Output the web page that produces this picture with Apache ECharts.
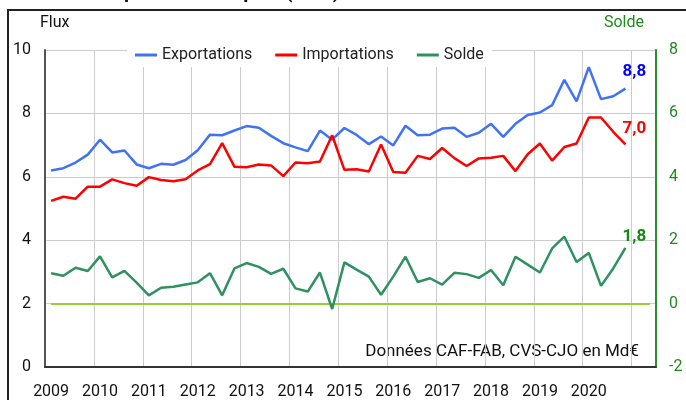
<!DOCTYPE html>
<html>
<head>
<meta charset="utf-8">
<script src="https://cdn.jsdelivr.net/npm/echarts@6/dist/echarts.min.js"></script>
<style>
  html, body { margin: 0; padding: 0; background: #fff; }
  #chart { width: 686px; height: 400px; }
</style>
</head>
<body>
<div id="chart"></div>
<script>
// années affichées sur l'axe (un label par T1)
var years = ['2009', '2010', '2011', '2012', '2013', '2014', '2015', '2016', '2017', '2018', '2019', '2020', '2021']
// trimestres, 2009T1 -> 2021T2 (les deux derniers sont vides)
var quarters = []
years.forEach(function (y) {
  ['T1', 'T2', 'T3', 'T4'].forEach(function (q) { quarters.push(y + q) })
})
var categories = quarters.slice(0, 50)

// flux trimestriels, Md€
var exportations = [6.20, 6.27, 6.45, 6.70, 7.17, 6.77, 6.83, 6.39,
  6.27, 6.41, 6.38, 6.53, 6.84, 7.33, 7.31, 7.46,
  7.60, 7.55, 7.29, 7.06, 6.93, 6.81, 7.46, 7.17,
  7.54, 7.32, 7.03, 7.27, 6.99, 7.61, 7.31, 7.33,
  7.52, 7.55, 7.26, 7.39, 7.67, 7.26, 7.67, 7.95,
  8.03, 8.26, 9.06, 8.38, 9.46, 8.45, 8.54, 8.78]
var importations = [5.24, 5.37, 5.31, 5.69, 5.69, 5.92, 5.80, 5.72,
  5.99, 5.90, 5.86, 5.92, 6.20, 6.40, 7.06, 6.32,
  6.30, 6.39, 6.36, 6.02, 6.45, 6.43, 6.48, 7.31,
  6.22, 6.24, 6.17, 7.02, 6.15, 6.13, 6.66, 6.56,
  6.91, 6.59, 6.34, 6.58, 6.60, 6.66, 6.18, 6.71,
  7.05, 6.51, 6.94, 7.05, 7.87, 7.87, 7.42, 7.02]
var solde = [0.96, 0.88, 1.13, 1.03, 1.49, 0.83, 1.03, 0.66,
  0.26, 0.50, 0.53, 0.60, 0.67, 0.96, 0.26, 1.11,
  1.28, 1.16, 0.94, 1.10, 0.48, 0.38, 0.98, -0.17,
  1.30, 1.07, 0.85, 0.28, 0.85, 1.48, 0.68, 0.80,
  0.60, 0.97, 0.93, 0.81, 1.06, 0.58, 1.48, 1.23,
  0.98, 1.74, 2.11, 1.31, 1.60, 0.56, 1.11, 1.76]

var FONT = 'Roboto'

// étiquette de la dernière valeur (ex. 8,8), les autres points restent sans label
function lastLabel(arr, color, offset) {
  return arr.map(function (v, i) {
    if (i !== arr.length - 1) return v
    return {
      value: v,
      label: {
        show: true,
        position: 'top',
        offset: offset,
        color: color,
        fontFamily: FONT,
        fontWeight: 'bold',
        fontSize: 17,
        formatter: function (p) { return p.value.toFixed(1).replace('.', ',') }
      }
    }
  })
}

var chart = echarts.init(document.getElementById('chart'))

chart.setOption({
  animation: false,
  textStyle: { fontFamily: FONT },
  grid: { left: 45, right: 30, top: 50, bottom: 33 },
  legend: {
    left: 127,
    top: 45,
    padding: [2, 8, 4, 8],
    backgroundColor: '#fff',
    icon: 'rect',
    itemWidth: 22,
    itemHeight: 3,
    itemGap: 23,
    textStyle: { fontSize: 16, color: '#222', fontFamily: FONT },
    data: ['Exportations', 'Importations', 'Solde']
  },
  xAxis: {
    type: 'category',
    data: categories,
    boundaryGap: true,
    axisLine: { lineStyle: { color: '#333', width: 2 } },
    axisTick: { show: false },
    axisLabel: {
      interval: function (i) { return i % 4 === 0 && i < 48 },
      formatter: function (v) { return v.slice(0, 4) },
      fontSize: 16,
      color: '#111',
      margin: 17
    },
    splitLine: {
      show: true,
      interval: function (i) { return i % 4 === 0 },
      lineStyle: { color: '#ccc', width: 1 }
    }
  },
  yAxis: [
    {
      type: 'value',
      min: 0,
      max: 10,
      interval: 2,
      name: 'Flux',
      nameLocation: 'end',
      nameGap: 19,
      nameTextStyle: { fontSize: 16, color: '#111', align: 'left', padding: [0, 0, 0, -5] },
      axisLine: { show: true, lineStyle: { color: '#555', width: 2 } },
      axisTick: { show: false },
      axisLabel: { fontSize: 16, color: '#111', margin: 14 },
      splitLine: { lineStyle: { color: '#ccc', width: 1 } }
    },
    {
      type: 'value',
      min: -2,
      max: 8,
      interval: 2,
      name: 'Solde',
      nameLocation: 'end',
      nameGap: 19,
      nameTextStyle: { fontSize: 16, color: '#1f8a1f', align: 'right', padding: [0, 12, 0, 0] },
      axisLine: { show: true, lineStyle: { color: '#2a8f2a', width: 2 } },
      axisTick: { show: false },
      axisLabel: { fontSize: 16, color: '#1f8a1f', margin: 13 },
      splitLine: { show: false }
    }
  ],
  series: [
    {
      name: 'Exportations',
      type: 'line',
      data: lastLabel(exportations, '#0000ff', [9, -3]),
      showSymbol: true,
      symbol: 'circle',
      symbolSize: 0.1,
      itemStyle: { color: '#3f72f5' },
      lineStyle: { color: '#3f72f5', width: 2.5 }
    },
    {
      name: 'Importations',
      type: 'line',
      data: lastLabel(importations, '#ff0000', [9, -2]),
      showSymbol: true,
      symbol: 'circle',
      symbolSize: 0.1,
      itemStyle: { color: '#ff0000' },
      lineStyle: { color: '#ff0000', width: 2.5 }
    },
    {
      name: 'Solde',
      type: 'line',
      yAxisIndex: 1,
      z: 3,
      data: lastLabel(solde, '#108a10', [9, 2]),
      showSymbol: true,
      symbol: 'circle',
      symbolSize: 0.1,
      itemStyle: { color: '#2e9160' },
      lineStyle: { color: '#2e9160', width: 2.5 },
      markLine: {
        silent: true,
        z: 1,
        symbol: 'none',
        label: { show: false },
        lineStyle: { color: '#9acd32', width: 2, type: 'solid' },
        data: [[
          { xAxis: categories[0], yAxis: 0 },
          { xAxis: categories[categories.length - 1], yAxis: 0 }
        ]]
      }
    }
  ],
  graphic: [
    {
      type: 'rect',
      shape: { x: 8, y: 10, width: 700, height: 420 },
      style: { fill: 'none', stroke: '#222', lineWidth: 2 },
      silent: true
    },
    {
      type: 'text',
      x: 43,
      y: 3,
      style: {
        text: 'Produits pharmaceutiques (Md€)',
        verticalAlign: 'bottom',
        font: 'bold 20px Roboto',
        fill: '#111'
      },
      silent: true
    },
    {
      type: 'text',
      x: 639,
      y: 352,
      style: {
        text: 'Données CAF-FAB, CVS-CJO en Md€',
        align: 'right',
        verticalAlign: 'middle',
        font: '17px Roboto',
        fill: '#111'
      },
      silent: true
    }
  ]
})
</script>
</body>
</html>
